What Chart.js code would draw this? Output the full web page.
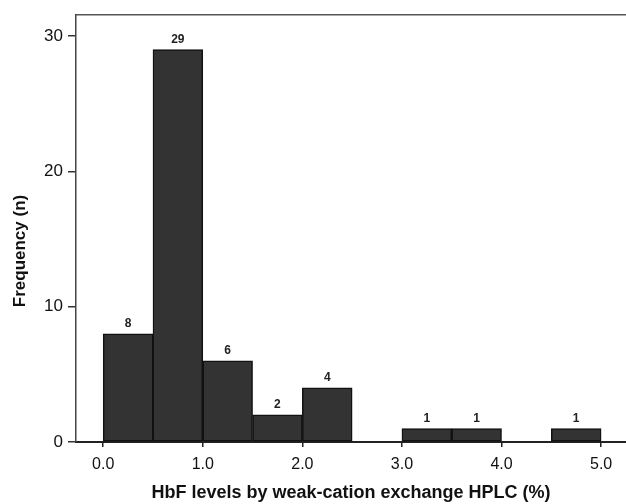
<!DOCTYPE html>
<html>
<head>
<meta charset="utf-8">
<script src="https://cdn.jsdelivr.net/npm/chart.js@4.4.1/dist/chart.umd.min.js"></script>
<style>
  html, body { margin: 0; padding: 0; background: #fff; }
  #wrap { width: 626px; height: 504px; }
</style>
</head>
<body>
<div id="wrap"><canvas id="histChart" width="626" height="504"></canvas></div>
<script>
// bin centres (bin width 0.5) and counts
const binCenters = [0.25, 0.75, 1.25, 1.75, 2.25, 2.75, 3.25, 3.75, 4.25, 4.75];
const counts = [8, 29, 6, 2, 4, 0, 1, 1, 0, 1];
const xTicks = [0, 1, 2, 3, 4, 5];
const yTicks = [0, 10, 20, 30];

const barData = binCenters.map((c, i) => ({ x: c, y: counts[i] }));

// count labels above bars + rotated y title
const labelPlugin = {
    id: 'labelPlugin',
    afterDatasetsDraw(chart) {
        const ctx = chart.ctx;
        const meta = chart.getDatasetMeta(0);
        ctx.save();
        ctx.fillStyle = '#222';
        ctx.font = 'bold 12px "Liberation Sans", Arial, sans-serif';
        ctx.textAlign = 'center';
        ctx.textBaseline = 'middle';
        meta.data.forEach((bar, i) => {
            if (counts[i] > 0) {
                ctx.fillText(String(counts[i]), bar.x, bar.y - 10);
            }
        });
        ctx.restore();

        ctx.save();
        ctx.translate(20, 251);
        ctx.rotate(-Math.PI / 2);
        ctx.fillStyle = '#111';
        ctx.font = 'bold 17px "Liberation Sans", Arial, sans-serif';
        ctx.textAlign = 'center';
        ctx.textBaseline = 'middle';
        ctx.fillText('Frequency (n)', 0, 0);
        ctx.restore();
    }
};

const ctx = document.getElementById('histChart').getContext('2d');
const histChart = new Chart(ctx, {
    type: 'bar',
    data: {
        datasets: [{
            data: barData,
            backgroundColor: '#333333',
            borderColor: '#111111',
            borderWidth: 1.5,
            borderSkipped: false,
            barPercentage: 1,
            categoryPercentage: 1,
            xAxisID: 'x',
            yAxisID: 'y'
        }]
    },
    options: {
        responsive: false,
        animation: false,
        layout: { padding: 0 },
        plugins: {
            legend: { display: false },
            tooltip: { enabled: false }
        },
        scales: {
            x: {
                type: 'linear',
                position: 'bottom',
                offset: false,
                min: -0.273,
                max: 5.25,
                afterBuildTicks: (axis) => { axis.ticks = xTicks.map(v => ({ value: v })); },
                afterFit: (axis) => { axis.height = 62; },
                ticks: {
                    color: '#111',
                    font: { family: '"Liberation Sans", Arial, sans-serif', size: 16 },
                    padding: 8,
                    maxRotation: 0,
                    callback: (v) => Number(v).toFixed(1)
                },
                grid: {
                    offset: false,
                    drawOnChartArea: false,
                    drawTicks: true,
                    tickLength: 5,
                    color: '#222',
                    lineWidth: 1.5
                },
                border: { display: true, color: '#222', width: 2 },
                title: {
                    display: true,
                    text: 'HbF levels by weak-cation exchange HPLC (%)',
                    color: '#111',
                    font: { family: '"Liberation Sans", Arial, sans-serif', size: 18, weight: 'bold' },
                    padding: { top: 2, bottom: 0 }
                }
            },
            xTop: {
                type: 'linear',
                position: 'top',
                offset: false,
                min: -0.273,
                max: 5.25,
                afterFit: (axis) => { axis.height = 15; },
                ticks: { display: false },
                grid: { display: false },
                border: { display: true, color: '#555', width: 1.5 }
            },
            y: {
                type: 'linear',
                min: 0,
                max: 31.55,
                afterBuildTicks: (axis) => { axis.ticks = yTicks.map(v => ({ value: v })); },
                afterFit: (axis) => { axis.width = 76; },
                ticks: {
                    color: '#111',
                    font: { family: '"Liberation Sans", Arial, sans-serif', size: 17 },
                    padding: 5
                },
                grid: {
                    drawOnChartArea: false,
                    drawTicks: true,
                    tickLength: 8,
                    color: '#333',
                    lineWidth: 1.5
                },
                border: { display: true, color: '#444', width: 1.5 }
            }
        }
    },
    plugins: [labelPlugin]
});
</script>
</body>
</html>
